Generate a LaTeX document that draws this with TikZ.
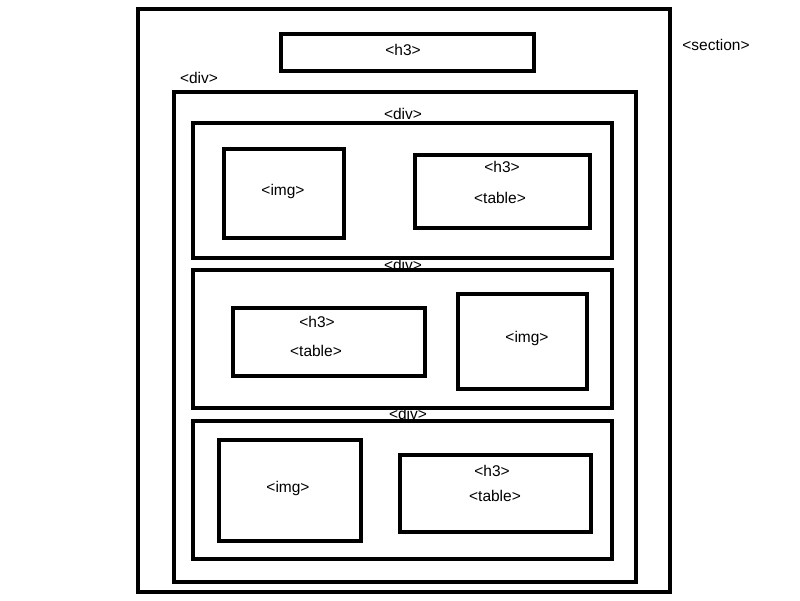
\documentclass[tikz,border=0pt]{standalone}
\usepackage{fontspec}
\setmainfont{Liberation Sans}
\begin{document}
\begin{tikzpicture}[x=1pt,y=-1pt,
  box/.style={draw=black,line width=3.5pt,fill=none},
  lbl/.style={inner sep=0pt,font=\fontsize{15.5}{18}\selectfont}]
\useasboundingbox[fill=white] (0,0) rectangle (800,600);
% section
\draw[box] (138,9) rectangle (670,592);
\node[lbl] (seclbl) at (716,45) {<section>};
\draw[box] (281,34) rectangle (534,71);
\node[lbl] (toph3) at (403,50) {<h3>};
% outer div
\node[lbl] (outerlbl) at (199,78) {<div>};
\draw[box] (174,92) rectangle (636,582);
% first row
\draw[box] (193,123) rectangle (612,258);
\node[lbl] (divA) at (403,114) {<div>};
\draw[box] (224,149) rectangle (344,238);
\node[lbl] (imgA) at (283,191) {<img>};
\draw[box] (415,155) rectangle (590,228);
\node[lbl] (h3A) at (502,167) {<h3>};
\node[lbl] (tabA) at (500,198) {<table>};
% second row
\draw[box] (193,270) rectangle (612,408);
\node[lbl] (divB) at (403,265) {<div>};
\draw[box] (233,308) rectangle (425,376);
\node[lbl] (h3B) at (317,322) {<h3>};
\node[lbl] (tabB) at (316,351) {<table>};
\draw[box] (458,294) rectangle (587,389);
\node[lbl] (imgB) at (527,338) {<img>};
% third row
\draw[box] (193,421) rectangle (612,559);
\node[lbl] (divC) at (408,414) {<div>};
\draw[box] (219,440) rectangle (361,541);
\node[lbl] (imgC) at (288,488) {<img>};
\draw[box] (400,455) rectangle (591,532);
\node[lbl] (h3C) at (492,471) {<h3>};
\node[lbl] (tabC) at (495,496) {<table>};
\end{tikzpicture}
\end{document}
